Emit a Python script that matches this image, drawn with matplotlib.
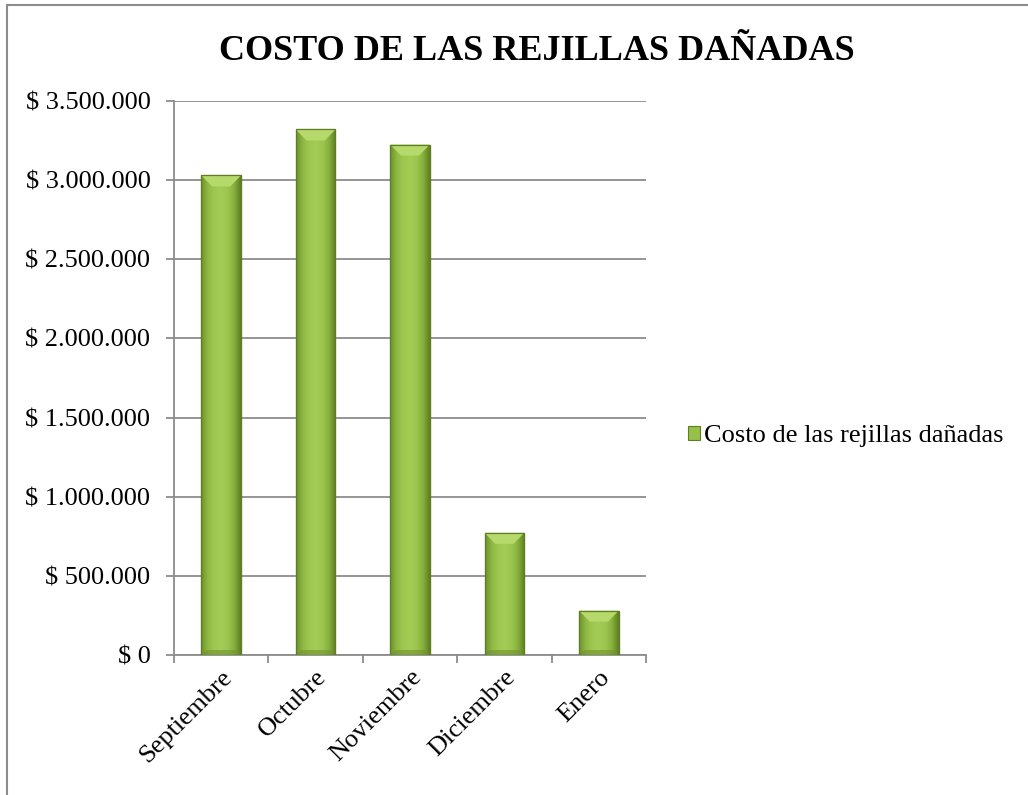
import matplotlib
matplotlib.use("Agg")
import matplotlib.pyplot as plt
import numpy as np
from matplotlib.patches import Rectangle, Polygon
from matplotlib.ticker import FuncFormatter, MultipleLocator
from matplotlib.colors import LinearSegmentedColormap

categories = ["Septiembre", "Octubre", "Noviembre", "Diciembre", "Enero"]
costs = [3030000, 3320000, 3225000, 772000, 280000]
series_name = "Costo de las rejillas dañadas"
title = "COSTO DE LAS REJILLAS DAÑADAS"

plt.rcParams['font.family'] = ['Liberation Serif', 'DejaVu Serif']

fig = plt.figure(figsize=(10.28, 7.95), dpi=100)
W, H = 1028, 795
ax = fig.add_axes([174 / W, 1 - 655 / H, 472 / W, 554 / H])

x = np.arange(len(categories))
bars = ax.bar(x, costs, width=0.42, color="#97c04a", edgecolor="#5f7d24",
              linewidth=0.8, zorder=3, label=series_name)

cmap = LinearSegmentedColormap.from_list(
    "g", ["#6e922c", "#8fb944", "#9fc851", "#a3cc55", "#9dc650", "#88b03d", "#5e7f22"])
grad = np.linspace(0, 1, 64).reshape(1, -1)
YMAX = 3500000
for b in bars:
    x0, w, h = b.get_x(), b.get_width(), b.get_height()
    im = ax.imshow(grad, cmap=cmap, aspect="auto", extent=[x0, x0 + w, 0, h],
                   zorder=3.5, interpolation="bicubic")
    im.set_clip_path(b)
    dx = w * 0.27
    dy = YMAX * 11 / 554
    cap = Polygon([[x0, h], [x0 + w, h], [x0 + w - dx, h - dy], [x0 + dx, h - dy]],
                  closed=True, facecolor="#b6d96c", edgecolor="none", zorder=3.6)
    ax.add_patch(cap)
    dyb = YMAX * 5 / 554
    bot = Polygon([[x0, 0], [x0 + w, 0], [x0 + w - dx * 0.5, dyb], [x0 + dx * 0.5, dyb]],
                  closed=True, facecolor="#6f9230", edgecolor="none", alpha=0.6, zorder=3.6)
    ax.add_patch(bot)
    outline = Rectangle((x0, 0), w, h, facecolor="none", edgecolor="#5f7d24",
                        linewidth=0.9, zorder=3.7)
    ax.add_patch(outline)

ax.set_xlim(-0.5, len(categories) - 0.5)
ax.set_ylim(0, YMAX)
ax.yaxis.set_major_locator(MultipleLocator(500000))


def fmt(v, pos):
    s = f"{int(round(v)):,}".replace(",", ".")
    return f"$ {s}"


ax.yaxis.set_major_formatter(FuncFormatter(fmt))
ax.grid(axis="y", color="#8c8c8c", linewidth=1.3, zorder=0)
ax.set_axisbelow(True)
for s in ["top", "right"]:
    ax.spines[s].set_visible(False)
for s in ["left", "bottom"]:
    ax.spines[s].set_color("#8c8c8c")
    ax.spines[s].set_linewidth(1.3)

ax.set_xticks(x)
ax.set_xticklabels(categories, rotation=45, ha="right", rotation_mode="anchor",
                   fontsize=19)
ax.tick_params(axis="x", length=0, pad=8)
ax.set_xticks(np.arange(-0.5, len(categories)), minor=True)
ax.tick_params(axis="x", which="minor", length=6, width=1.3, color="#8c8c8c")
ax.tick_params(axis="y", length=6, width=1.3, color="#8c8c8c", labelsize=19, pad=11)

fig.text(537 / W, 1 - 51 / H, title, ha="center", va="center",
         fontsize=26, fontweight="bold")

leg = fig.legend(handles=[Rectangle((0, 0), 1, 1, facecolor="#97c04a", edgecolor="#5f7d24",
                                    linewidth=0.8)],
                 labels=[series_name], loc="center left",
                 bbox_to_anchor=(688 / W, 1 - 436 / H), frameon=False, fontsize=19,
                 handlelength=0.45, handleheight=0.45, handletextpad=0.15,
                 borderaxespad=0, borderpad=0)

border = Rectangle((7 / W, -0.05), 1.1, 1 - 5 / H + 0.05, transform=fig.transFigure,
                   facecolor="none", edgecolor="#8c8c8c", linewidth=1.5, clip_on=False)
fig.patches.append(border)

fig.savefig("out.png", dpi=100)
